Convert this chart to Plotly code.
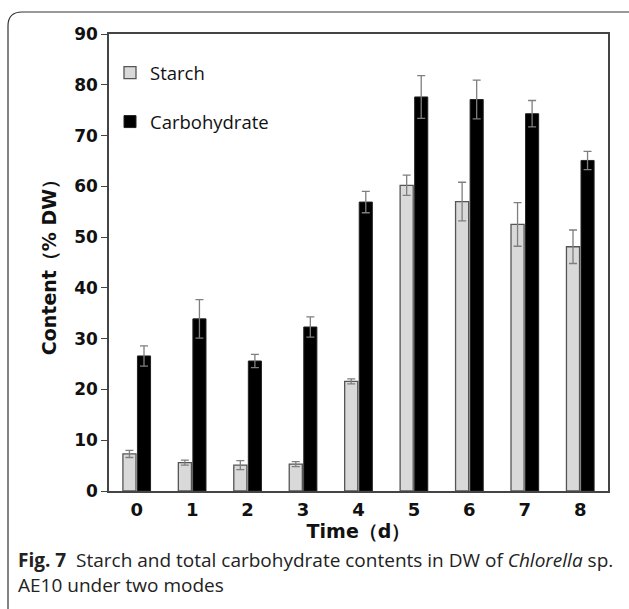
import plotly.graph_objects as go

days = ["0", "1", "2", "3", "4", "5", "6", "7", "8"]
starch = [7.3, 5.6, 5.1, 5.3, 21.6, 60.2, 57.0, 52.5, 48.1]
starch_err = [0.7, 0.5, 0.9, 0.5, 0.5, 2.0, 3.8, 4.3, 3.3]
carb = [26.6, 33.9, 25.6, 32.3, 56.9, 77.6, 77.1, 74.3, 65.1]
carb_err = [2.0, 3.8, 1.3, 2.0, 2.1, 4.2, 3.8, 2.6, 1.8]
y_ticks = [0, 10, 20, 30, 40, 50, 60, 70, 80, 90]

W, H = 629, 609
L, R, T, B = 109, 608, 34, 491


def px(x):
    return (x - L) / (R - L)


def py(y):
    return (B - y) / (B - T)


fig = go.Figure()
fig.add_trace(go.Bar(
    x=days, y=starch, name="Starch", legendgroup="a",
    marker=dict(color="#d9d9d9", line=dict(color="#555555", width=1.3)),
    error_y=dict(type="data", array=starch_err, visible=True,
                 color="#7f7f7f", thickness=1.3, width=4),
))
fig.add_trace(go.Bar(
    x=days, y=carb, name="Carbohydrate", legendgroup="b",
    marker=dict(color="#000000", line=dict(color="#222222", width=1)),
    error_y=dict(type="data", array=carb_err, visible=True,
                 color="#7f7f7f", thickness=1.3, width=4),
))

tick_font = dict(family="DejaVu Sans", size=17, color="#111111", weight="bold")
title_font = dict(family="DejaVu Sans", size=19, color="#111111", weight="bold")

fig.update_layout(
    width=W, height=H,
    margin=dict(l=L, r=W - R, t=T, b=H - B, autoexpand=False),
    paper_bgcolor="white", plot_bgcolor="white",
    barmode="group", bargap=0.475, bargroupgap=0.1,
    showlegend=True,
    legend=dict(
        x=px(110), y=py(54), xanchor="left", yanchor="top",
        font=dict(family="Open Sans", size=18.5, color="#111111"),
        bgcolor="rgba(0,0,0,0)", tracegroupgap=22,
        itemwidth=30,
    ),
    xaxis=dict(
        type="category", showline=True, linecolor="#444444", linewidth=1.5,
        mirror=True, ticks="", tickfont=dict(tick_font, size=18), ticklabelstandoff=2,
        showgrid=False, zeroline=False,
        title=dict(text="Time（d）", font=title_font, standoff=2),
    ),
    yaxis=dict(
        range=[0, 90], tickvals=y_ticks, showline=True, linecolor="#444444",
        linewidth=1.5, mirror=True, ticks="outside", ticklen=6, tickcolor="#444444",
        tickfont=tick_font, showgrid=False, zeroline=False,
        title=dict(text="Content（% DW）", font=title_font, standoff=13),
    ),
)

# caption
fig.add_annotation(
    xref="paper", yref="paper", x=px(16), y=py(545), xanchor="left", yanchor="top",
    align="left", showarrow=False,
    text="<b>Fig. 7</b>  Starch and total carbohydrate contents in DW of <i>Chlorella</i> sp.<br>AE10 under two modes",
    font=dict(family="Open Sans", size=19, color="#222222"),
)

# rounded frame around the figure
fig.add_shape(
    type="path", xref="paper", yref="paper",
    path=(f"M {px(8)},{py(640)} L {px(8)},{py(26)} Q {px(8)},{py(12)} {px(22)},{py(12)} "
          f"L {px(660)},{py(12)}"),
    line=dict(color="#333333", width=1.2),
)

fig.write_html("out.html")
